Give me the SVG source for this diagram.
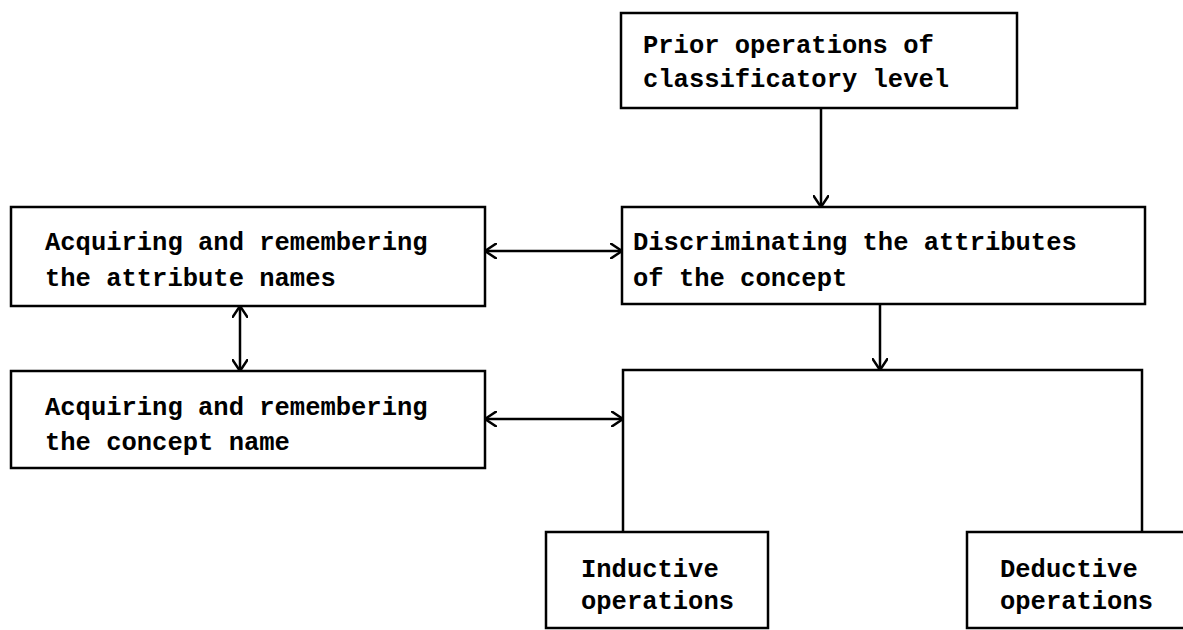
<svg xmlns="http://www.w3.org/2000/svg" width="1183" height="630" viewBox="0 0 1183 630">
  <style>
    .box { fill: none; stroke: #000; stroke-width: 2.5; }
    .line { fill: none; stroke: #000; stroke-width: 2.5; }
    .lbl { font-family: "Liberation Mono", "Courier New", monospace; font-size: 25.5px; font-weight: bold; fill: #000; }
  </style>
  <defs>
    <marker id="head" viewBox="0 0 12 16" refX="12" refY="8" markerWidth="12" markerHeight="16" markerUnits="userSpaceOnUse" orient="auto-start-reverse">
      <polyline points="0,0 12,8 0,16" fill="none" stroke="#000" stroke-width="2.5"/>
    </marker>
  </defs>
  <rect width="1183" height="630" fill="#fff"/>

  <g id="node-prior">
    <rect class="box" x="621" y="13" width="396" height="95"/>
    <text class="lbl" x="643" y="53">Prior operations of</text>
    <text class="lbl" x="643" y="87">classificatory level</text>
  </g>

  <g id="node-discriminating">
    <rect class="box" x="622" y="207" width="523" height="97"/>
    <text class="lbl" x="633" y="250">Discriminating the attributes</text>
    <text class="lbl" x="633" y="286">of the concept</text>
  </g>

  <g id="node-attribute-names">
    <rect class="box" x="11" y="207" width="474" height="99"/>
    <text class="lbl" x="45" y="250">Acquiring and remembering</text>
    <text class="lbl" x="45" y="286">the attribute names</text>
  </g>

  <g id="node-concept-name">
    <rect class="box" x="11" y="371" width="474" height="97"/>
    <text class="lbl" x="45" y="415">Acquiring and remembering</text>
    <text class="lbl" x="45" y="450">the concept name</text>
  </g>

  <g id="node-inductive">
    <rect class="box" x="546" y="532" width="222" height="96"/>
    <text class="lbl" x="581" y="577">Inductive</text>
    <text class="lbl" x="581" y="609">operations</text>
  </g>

  <g id="node-deductive">
    <rect class="box" x="967" y="532" width="230" height="96"/>
    <text class="lbl" x="1000" y="577">Deductive</text>
    <text class="lbl" x="1000" y="609">operations</text>
  </g>

  <g id="connectors">
    <!-- split bracket feeding both kinds of operations -->
    <path class="line" d="M623,532 V370 H1142 V532"/>
    <line class="line" x1="821" y1="108" x2="821" y2="207" marker-end="url(#head)"/>
    <line class="line" x1="880" y1="304" x2="880" y2="370" marker-end="url(#head)"/>
    <line class="line" x1="485" y1="251" x2="622" y2="251" marker-start="url(#head)" marker-end="url(#head)"/>
    <line class="line" x1="240" y1="306" x2="240" y2="371" marker-start="url(#head)" marker-end="url(#head)"/>
    <line class="line" x1="485" y1="419" x2="623" y2="419" marker-start="url(#head)" marker-end="url(#head)"/>
  </g>
</svg>
